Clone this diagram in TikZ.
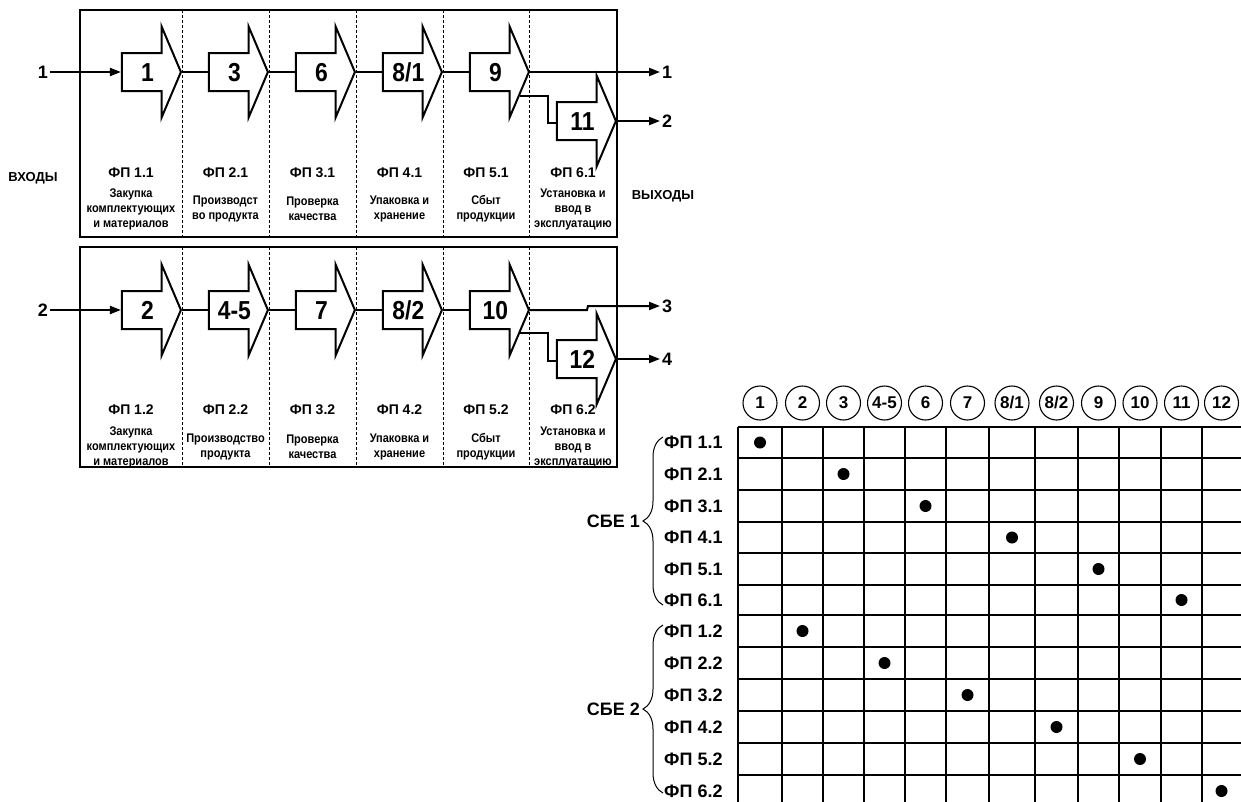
\documentclass[tikz,border=0pt]{standalone}
\usepackage{fontspec}
\setmainfont{Liberation Sans}
\newfontfamily\narrowsans{Liberation Sans}[FakeStretch=0.88]
\usetikzlibrary{shapes.arrows, arrows.meta, calc, decorations.pathreplacing}

\tikzset{
    procarrow/.style={draw, line width=2pt, fill=white, single arrow,
        single arrow head extend=26.5pt, single arrow tip angle=134,
        minimum height=59pt, inner xsep=1pt, inner ysep=9pt,
        text height=18pt, text depth=0pt,
        font=\fontsize{26}{26}\narrowsans\bfseries, anchor=tip},
    conn/.style={line width=2pt},
    flow/.style={line width=2pt, -{Triangle[length=11pt,width=8pt]}},
    funcbox/.style={draw, line width=1.6pt},
    colsep/.style={line width=0.8pt, dash pattern=on 3pt off 2pt},
    fplabel/.style={font=\fontsize{14}{16}\selectfont\bfseries},
    desc/.style={font=\fontsize{12.5}{15}\narrowsans\bfseries, align=center},
    portlabel/.style={font=\fontsize{18}{18}\selectfont\bfseries, inner sep=2pt},
    sidelabel/.style={font=\fontsize{13}{15}\selectfont\bfseries},
    rowlabel/.style={font=\fontsize{18}{18}\selectfont\bfseries, anchor=west, inner sep=0pt},
    colhead/.style={draw, circle, line width=1.1pt, minimum size=34pt, inner sep=0pt,
        font=\fontsize{17}{17}\selectfont\bfseries},
    hitdot/.style={circle, fill, inner sep=0pt, minimum size=12pt},
    gridline/.style={line width=1.2pt},
    sbebrace/.style={decorate, decoration={brace, amplitude=20pt}, line width=1pt},
}

\begin{document}
\begin{tikzpicture}[x=1pt, y=-1pt]
    \useasboundingbox (0,0) rectangle (1241,801);
    \clip (0,0) rectangle (1241,801);

    % two business units, six functional steps each
    \draw[funcbox] (80,10) rectangle (617,237);
    \draw[funcbox] (80,247) rectangle (617,467);
    \foreach \x in {182,269,356,443,529}{
        \draw[colsep] (\x,10) -- (\x,237);
        \draw[colsep] (\x,247) -- (\x,467);
    }

    \node[procarrow] (a1) at (182,72) {1};
    \node[procarrow] (a3) at (269,72) {3};
    \node[procarrow] (a6) at (356,72) {6};
    \node[procarrow] (a81) at (443,72) {8/1};
    \node[procarrow] (a9) at (530,72) {9};
    \node[procarrow] (a11) at (617,121) {11};

    \node[procarrow] (a2) at (182,310) {2};
    \node[procarrow] (a45) at (269,310) {4-5};
    \node[procarrow] (a7) at (356,310) {7};
    \node[procarrow] (a82) at (443,310) {8/2};
    \node[procarrow] (a10) at (530,310) {10};
    \node[procarrow] (a12) at (617,359) {12};

    \draw[conn] (a1.tip) -- (a3.tail);
    \draw[conn] (a3.tip) -- (a6.tail);
    \draw[conn] (a6.tip) -- (a81.tail);
    \draw[conn] (a81.tip) -- (a9.tail);
    \draw[conn] (a2.tip) -- (a45.tail);
    \draw[conn] (a45.tip) -- (a7.tail);
    \draw[conn] (a7.tip) -- (a82.tail);
    \draw[conn] (a82.tip) -- (a10.tail);

    % inputs and outputs
    \node[portlabel, anchor=east] (in1) at (50,72) {1};
    \node[portlabel, anchor=east] (in2) at (50,310) {2};
    \draw[flow] (in1) -- (a1.tail);
    \draw[flow] (in2) -- (a2.tail);

    \node[portlabel, anchor=west] (out1) at (660,72) {1};
    \node[portlabel, anchor=west] (out2) at (660,121) {2};
    \node[portlabel, anchor=west] (out3) at (660,306) {3};
    \node[portlabel, anchor=west] (out4) at (660,359) {4};
    \draw[flow] (a9.tip) -- (out1);
    \draw[flow] (a11.tip) -- (out2);
    \draw[flow] (a10.tip) -- ++(57,0) -- ++(1,-4) -- (out3);
    \draw[flow] (a12.tip) -- (out4);

    \coordinate (b9) at ($(a9.tip)+(-10,24)$);
    \coordinate (b10) at ($(a10.tip)+(-10,23)$);
    \draw[conn] (b9) -- ++(28,0) |- ($(a11.tail)+(0,2)$);
    \draw[conn] (b10) -- ++(28,0) |- ($(a12.tail)+(0,2)$);

    \node[sidelabel] (inputs) at (33,178) {ВХОДЫ};
    \node[sidelabel] (outputs) at (663,196) {ВЫХОДЫ};

    \foreach \x/\k/\dt/\db in {
        131/1/{Закупка\\комплектующих\\и материалов}/{Закупка\\комплектующих\\и материалов},
        225.5/2/{Производст\\во продукта}/{Производство\\продукта},
        312.5/3/{Проверка\\качества}/{Проверка\\качества},
        399.5/4/{Упаковка и\\хранение}/{Упаковка и\\хранение},
        486/5/{Сбыт\\продукции}/{Сбыт\\продукции},
        573/6/{Установка и\\ввод в\\эксплуатацию}/{Установка и\\ввод в\\эксплуатацию}}{
        \node[fplabel] (fpt\k) at (\x,173) {ФП \k.1};
        \node[desc] (dst\k) at (\x,209) {\dt};
        \node[fplabel] (fpb\k) at (\x,410) {ФП \k.2};
        \node[desc] (dsb\k) at (\x,447) {\db};
    }

    % matrix of functional processes
    \foreach \x in {738,782,823,864,905,946,989,1035,1078,1119,1161,1202}
        \draw[gridline] (\x,427) -- (\x,810);
    \foreach \y in {427,458,490,522,553,585,647,679,711,743,775}
        \draw[gridline] (738,\y) -- (1250,\y);
    \draw[line width=2pt] (738,615) -- (1250,615);

    \foreach \x/\t [count=\c] in {760/1, 802.5/2, 843.5/3, 884.5/4-5, 925.5/6, 967.5/7,
        1012/8\slash 1, 1056.5/8\slash 2, 1098.5/9, 1140/10, 1181.5/11, 1221.5/12}
        \node[colhead] (h\c) at (\x,403) {\t};

    \foreach \y/\t/\c [count=\r] in {442.5/1.1/1, 474/2.1/3, 506/3.1/5, 537.5/4.1/7,
        569/5.1/9, 600/6.1/11, 631/1.2/2, 663/2.2/4, 695/3.2/6, 727/4.2/8,
        759/5.2/10, 791/6.2/12}{
        \node[rowlabel] (r\r) at (664,\y) {ФП \t};
        \node[hitdot] (d\r) at (h\c |- r\r) {};
    }

    \draw[sbebrace] (663,605) -- (663,437);
    \draw[sbebrace] (663,793) -- (663,625);
    \node[rowlabel, anchor=east] (sbe1) at (640,521) {СБЕ 1};
    \node[rowlabel, anchor=east] (sbe2) at (640,709) {СБЕ 2};
\end{tikzpicture}
\end{document}
